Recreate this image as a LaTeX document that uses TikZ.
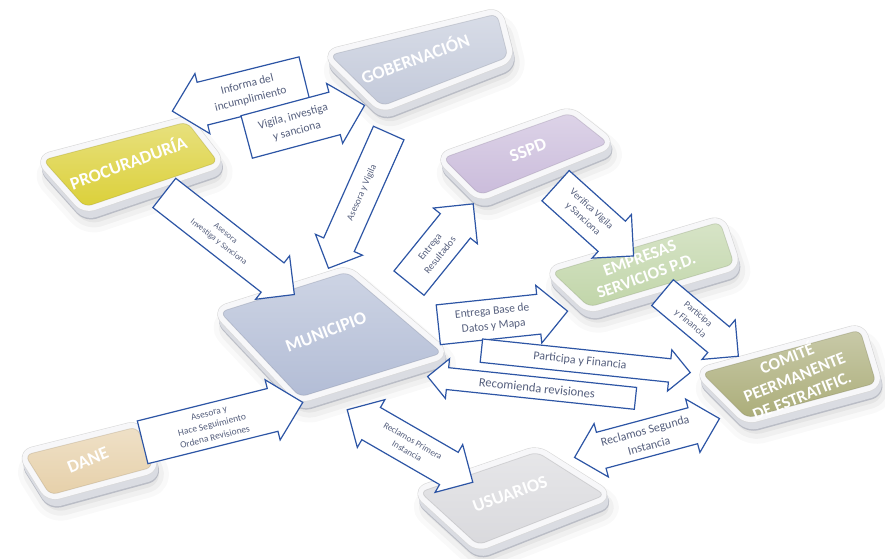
\documentclass[tikz,border=0pt]{standalone}
\usepackage{fontspec}
\setmainfont{Carlito}
\newfontfamily\boxfont{Carlito}
\newfontfamily\arrfont{Carlito}
\usetikzlibrary{shapes.arrows}
\definecolor{gobc}{RGB}{190,197,215}
\definecolor{procc}{RGB}{216,204,40}
\definecolor{sspdc}{RGB}{198,182,216}
\definecolor{empc}{RGB}{188,210,162}
\definecolor{munc}{RGB}{172,183,210}
\definecolor{danec}{RGB}{228,204,162}
\definecolor{usuc}{RGB}{214,214,218}
\definecolor{comc}{RGB}{164,166,110}
\definecolor{arrline}{RGB}{45,85,165}
\definecolor{arrtext}{RGB}{85,95,125}
\definecolor{slab}{RGB}{218,220,226}
\definecolor{slabdark}{RGB}{186,189,198}
\definecolor{rim}{RGB}{247,247,249}
\newcommand\boxbtn[5]{%
  \foreach \w/\o in {30/0.025,20/0.035,10/0.045}{%
    \draw[line width=\w pt, line join=round, rounded corners=10pt, draw=black, fill=black, opacity=\o, shift={(4,13)}] #2 -- #3 -- #4 -- #5 -- cycle;}
  \draw[line width=13pt, line join=round, rounded corners=8pt, draw=slabdark, fill=slabdark, shift={(2,8)}] #2 -- #3 -- #4 -- #5 -- cycle;
  \foreach \k in {7,6,...,1}{%
    \draw[line width=12pt, line join=round, rounded corners=8pt, draw=slab, fill=slab, shift={(0.25*\k,\k)}] #2 -- #3 -- #4 -- #5 -- cycle;}
  \draw[line width=13pt, line join=round, rounded corners=8pt, draw=gray!30, fill=rim] #2 -- #3 -- #4 -- #5 -- cycle;
  \draw[line width=11.8pt, line join=round, rounded corners=8pt, draw=rim, fill=rim] #2 -- #3 -- #4 -- #5 -- cycle;
  \shade[rounded corners=7pt, top color=#1!60!white, bottom color=#1!92!white] #2 -- #3 -- #4 -- #5 -- cycle;
  \draw[#1!70!black, opacity=0.3, line width=0.8pt, rounded corners=7pt] #2 -- #3 -- #4 -- #5 -- cycle;
}
\tikzset{
  lbl/.style={text=white, font=\boxfont\bfseries\fontsize{18}{21}\selectfont, align=center, inner sep=0pt},
  arr/.style={single arrow, draw=arrline, line width=1.2pt, fill=white, text=arrtext, align=center, inner xsep=3pt, single arrow head extend=9pt, line join=miter},
  darr/.style={double arrow, draw=arrline, line width=1.2pt, fill=white, text=arrtext, align=center, inner xsep=3pt, double arrow head extend=9pt, line join=miter},
  lft/.style={shape border rotate=180},
  fs/.style={font=\arrfont\fontsize{#1}{1.3\dimexpr #1pt\relax}\selectfont}
}
\begin{document}
\begin{tikzpicture}[x=1pt,y=-1pt]
\fill[white] (0,0) rectangle (885,558);
\useasboundingbox (0,0) rectangle (885,558);
% boxes
\boxbtn{gobc}{(330,55)}{(497,14)}{(508,57)}{(382,106)}
\boxbtn{sspdc}{(443,158)}{(570,113)}{(608,143)}{(480,195)}
\boxbtn{procc}{(43,160)}{(187,122)}{(218,162)}{(85,207)}
\boxbtn{empc}{(552,272)}{(720,222)}{(734,264)}{(589,307)}
\boxbtn{munc}{(220,312)}{(347,272)}{(442,353)}{(300,397)}
\boxbtn{comc}{(702,373)}{(860,330)}{(876,383)}{(747,418)}
\boxbtn{danec}{(25,455)}{(137,427)}{(153,467)}{(50,495)}
\boxbtn{usuc}{(420,492)}{(537,452)}{(605,495)}{(478,545)}
\node[lbl, rotate=20] (gob) at (415,58) {GOBERNACIÓN};
\node[lbl, rotate=20] (proc) at (128,162) {PROCURADURÍA};
\node[lbl, rotate=21] (sspd) at (528,150) {SSPD};
\node[lbl, rotate=20, font=\boxfont\bfseries\fontsize{17}{19}\selectfont] (emp) at (643,267) {EMPRESAS\\SERVICIOS P.D.};
\node[lbl, rotate=21] (mun) at (326,332) {MUNICIPIO};
\node[lbl, rotate=22, font=\boxfont\bfseries\fontsize{17}{20}\selectfont] (com) at (794,376) {COMITÉ\\PEERMANENTE\\DE ESTRATIFIC.};
\node[lbl, rotate=22] (dane) at (88,460) {DANE};
\node[lbl, rotate=20] (usu) at (510,494) {USUARIOS};
% arrows
\node[arr, lft, rotate=14, minimum height=136pt, inner ysep=9pt, fs=11.5] (a1) at (249,92) {Informa del\\incumplimiento};
\node[arr, rotate=15, minimum height=122pt, inner ysep=9pt, fs=11.5] (a2) at (295,124) {Vigila, investiga\\y sanciona};
\node[arr, rotate=-38, minimum height=165pt, inner ysep=9pt, fs=8.5] (a3) at (222,238) {Asesora\\Investiga y Sanciona};
\node[arr, lft, rotate=66, minimum height=148pt, inner ysep=12pt, fs=9.5] (a4) at (362,193) {Asesora y Vigila};
\node[arr, rotate=51, minimum height=102pt, inner ysep=9pt, fs=10] (a5) at (435,251) {Entrega\\Resultados};
\node[arr, rotate=-42, minimum height=105pt, inner ysep=9pt, fs=10] (a6) at (587,214) {Verifica Vigila\\y Sanciona};
\node[arr, rotate=6, minimum height=130pt, inner ysep=7pt, fs=11.5] (a7) at (493,319) {Entrega Base de\\Datos y Mapa};
\node[arr, rotate=-40, minimum height=99pt, inner ysep=6pt, fs=9.5] (a8) at (694,319) {Participa\\y Financia};
\node[arr, lft, rotate=-6, minimum height=209pt, inner ysep=6pt, fs=12.5] (a10) at (537,388) {Recomienda revisiones};
\node[arr, rotate=-6, minimum height=210pt, inner ysep=6pt, fs=12] (a9) at (580,361) {Participa y Financia};
\node[arr, rotate=14, minimum height=165pt, inner ysep=6pt, fs=9.5] (a11) at (212,425) {Asesora y\\Hace Seguimiento\\Ordena Revisiones};
\node[darr, rotate=-30, minimum height=145pt, inner ysep=9pt, fs=9] (a12) at (410,446) {Reclamos Primera\\Instancia};
\node[darr, rotate=15, minimum height=150pt, inner ysep=6pt, fs=12] (a13) at (647,438) {Reclamos Segunda\\Instancia};
\end{tikzpicture}
\end{document}
